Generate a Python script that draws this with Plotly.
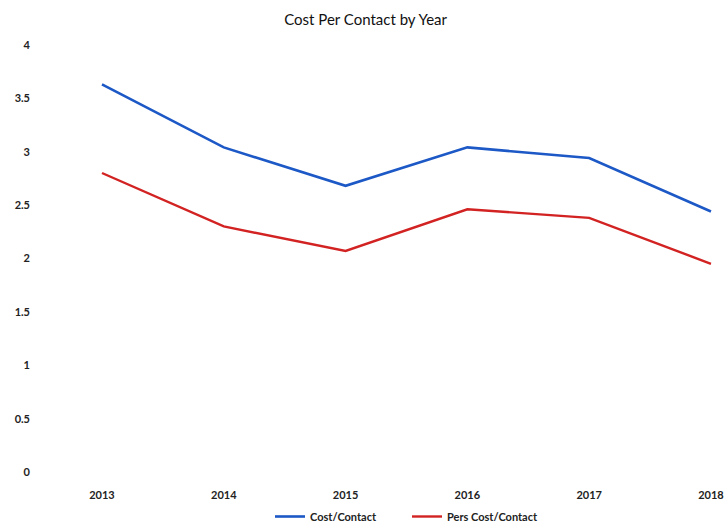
import plotly.graph_objects as go

years = ["2013", "2014", "2015", "2016", "2017", "2018"]
cost_per_contact = [3.63, 3.04, 2.68, 3.04, 2.94, 2.44]
pers_cost_per_contact = [2.80, 2.30, 2.07, 2.46, 2.38, 1.95]
y_ticks = [0, 0.5, 1, 1.5, 2, 2.5, 3, 3.5, 4]
y_tick_text = ["0", "0.5", "1", "1.5", "2", "2.5", "3", "3.5", "4"]

FONT = "Lato, Roboto, Arial, sans-serif"
x_idx = list(range(len(years)))

fig = go.Figure()
fig.add_trace(go.Scatter(
    x=x_idx, y=cost_per_contact, mode="lines", name="Cost/Contact",
    line=dict(color="#1c58c6", width=2.6),
))
fig.add_trace(go.Scatter(
    x=x_idx, y=pers_cost_per_contact, mode="lines", name="Pers Cost/Contact",
    line=dict(color="#d22222", width=2.4),
))

tick_font = dict(family=FONT, size=11, color="#222", weight="bold")

fig.update_layout(
    width=724, height=531,
    margin=dict(l=40, r=0, t=30, b=49),
    paper_bgcolor="white", plot_bgcolor="white",
    title=dict(text="Cost Per Contact by Year", x=0.505, xanchor="center",
               y=0.962, yanchor="middle",
               font=dict(family=FONT, size=15, color="#111")),
    font=dict(family=FONT, color="#222"),
    showlegend=True,
    legend=dict(orientation="h", x=(270 - 40) / 684, xanchor="left", y=-0.086, yanchor="middle",
                font=dict(family=FONT, size=11, color="#222", weight="bold"),
                itemwidth=30, entrywidth=92, entrywidthmode="pixels",
                tracegroupgap=0, bgcolor="rgba(0,0,0,0)"),
    xaxis=dict(range=[-0.509, 5.107], tickmode="array", tickvals=x_idx, ticktext=years,
               showgrid=False, zeroline=False, showline=False, ticks="",
               ticklabelstandoff=9, tickfont=tick_font),
    yaxis=dict(range=[-0.0557, 4.139], tickmode="array", tickvals=y_ticks, ticktext=y_tick_text,
               showgrid=False, zeroline=False, showline=False, ticks="",
               ticklabelstandoff=9, tickfont=tick_font),
)

fig.write_html("out.html")
